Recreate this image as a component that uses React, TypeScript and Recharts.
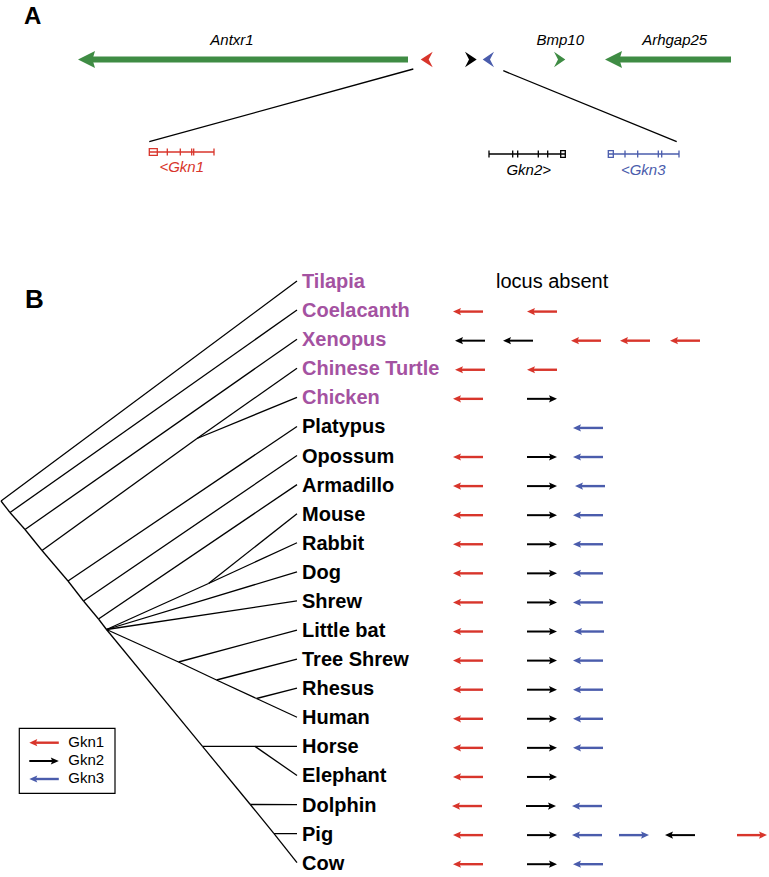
import React from 'react';
import { ComposedChart, XAxis, YAxis, ReferenceLine, ReferenceArea, ReferenceDot, Scatter } from 'recharts';

const W = 769;
const H = 877;
const FONT = 'Liberation Sans, Arial, Helvetica, sans-serif';
const RED = '#d8352b';
const BLUE = '#4a5cac';
const GREEN = '#3f8c44';
const PURPLE = '#a452a1';
const BLACK = '#000000';

// ---------- Panel A : genomic locus ----------
const locusGenes = ['Antxr1', 'Gkn1', 'Gkn2', 'Gkn3', 'Bmp10', 'Arhgap25'];
const locusTail = [408, 432.7, 465, 494, 554, 731];
const locusTip = [78, 420.7, 476.7, 482.7, 565.3, 605];
const locusBig = ['Antxr1', 'Arhgap25'];
const LOCUS_Y = 59.5;
const locusLabels = ['Antxr1', 'Bmp10', 'Arhgap25'];
const locusLabelX = [232, 560.3, 674.7];
const LOCUS_LABEL_Y = 45;

const exonGenes = ['Gkn1', 'Gkn2', 'Gkn3'];
const exonStart = [149.3, 489, 608.3];
const exonEnd = [214, 565.3, 679];
const exonBoxFrom = [149.3, 560.7, 608.3];
const exonBoxTo = [157.3, 565.3, 613.3];
const exonTicks = [
  [167.3, 180.3, 191.7, 193.7, 214],
  [489, 512.7, 517.7, 538.3, 547.7],
  [625, 637.7, 658.3, 661.7, 679],
];
const exonTrackY = [152, 154, 154];
const exonLabels = ['<Gkn1', 'Gkn2>', '<Gkn3'];
const exonLabelX = [181.7, 528.7, 643.2];
const exonLabelY = [172, 175, 175];
const zoomLines = [
  [413.3, 69, 149.3, 141.7],
  [503.3, 70.7, 676.7, 141.7],
];

// ---------- Panel B : tree + loci ----------
const species = ['Tilapia', 'Coelacanth', 'Xenopus', 'Chinese Turtle', 'Chicken', 'Platypus', 'Opossum', 'Armadillo', 'Mouse', 'Rabbit', 'Dog', 'Shrew', 'Little bat', 'Tree Shrew', 'Rhesus', 'Human', 'Horse', 'Elephant', 'Dolphin', 'Pig', 'Cow'];
const nonMammals = ['Tilapia', 'Coelacanth', 'Xenopus', 'Chinese Turtle', 'Chicken'];
const ROW0 = 281;
const ROW_STEP = 29.085;
const LEAF_X = 297;
const LABEL_X = 302;
const rowY = (i: number) => ROW0 + ROW_STEP * i;

const treeNodes: [string, number, number][] = [
  ['root', 1, 501],
  ['n1', 10, 512.5],
  ['n2', 25, 529.5],
  ['n3', 42, 550.5],
  ['archelo', 197, 438.5],
  ['n4', 68, 581],
  ['n5', 83.5, 601],
  ['n6', 98.5, 619],
  ['euth', 106.5, 629.5],
  ['glires', 208.5, 583.5],
  ['n9', 178.5, 662],
  ['n10', 216.5, 680],
  ['n11', 256.5, 698.5],
  ['n12', 202.5, 746.4],
  ['n13', 255, 746.4],
  ['n14', 250.3, 804.5],
  ['n15', 274, 833.6],
];
const treeEdges: [string, string][] = [
  ['root', 'Tilapia'], ['root', 'n1'], ['n1', 'Coelacanth'], ['n1', 'n2'], ['n2', 'Xenopus'], ['n2', 'n3'],
  ['n3', 'archelo'], ['archelo', 'Chinese Turtle'], ['archelo', 'Chicken'], ['n3', 'n4'], ['n4', 'Platypus'],
  ['n4', 'n5'], ['n5', 'Opossum'], ['n5', 'n6'], ['n6', 'Armadillo'], ['n6', 'euth'], ['euth', 'glires'],
  ['glires', 'Mouse'], ['glires', 'Rabbit'], ['euth', 'Dog'], ['euth', 'Shrew'], ['euth', 'n9'],
  ['n9', 'Little bat'], ['n9', 'n10'], ['n10', 'Tree Shrew'], ['n10', 'n11'], ['n11', 'Rhesus'], ['n11', 'Human'],
  ['euth', 'n12'], ['n12', 'n13'], ['n13', 'Horse'], ['n13', 'Elephant'], ['n12', 'n14'], ['n14', 'Dolphin'],
  ['n14', 'n15'], ['n15', 'Pig'], ['n15', 'Cow'],
];

const ARROW_LEN = 30;
const locusArrows: [string, string, 'L' | 'R', number][] = [
  ['Coelacanth', 'Gkn1', 'L', 453], ['Coelacanth', 'Gkn1', 'L', 527],
  ['Xenopus', 'Gkn2', 'L', 455], ['Xenopus', 'Gkn2', 'L', 503], ['Xenopus', 'Gkn1', 'L', 571], ['Xenopus', 'Gkn1', 'L', 620], ['Xenopus', 'Gkn1', 'L', 670],
  ['Chinese Turtle', 'Gkn1', 'L', 455], ['Chinese Turtle', 'Gkn1', 'L', 527],
  ['Chicken', 'Gkn1', 'L', 453], ['Chicken', 'Gkn2', 'R', 527],
  ['Platypus', 'Gkn3', 'L', 573],
  ['Opossum', 'Gkn1', 'L', 453], ['Opossum', 'Gkn2', 'R', 527], ['Opossum', 'Gkn3', 'L', 573],
  ['Armadillo', 'Gkn1', 'L', 453], ['Armadillo', 'Gkn2', 'R', 527], ['Armadillo', 'Gkn3', 'L', 575],
  ['Mouse', 'Gkn1', 'L', 453], ['Mouse', 'Gkn2', 'R', 527], ['Mouse', 'Gkn3', 'L', 573],
  ['Rabbit', 'Gkn1', 'L', 453], ['Rabbit', 'Gkn2', 'R', 527], ['Rabbit', 'Gkn3', 'L', 573],
  ['Dog', 'Gkn1', 'L', 453], ['Dog', 'Gkn2', 'R', 527], ['Dog', 'Gkn3', 'L', 573],
  ['Shrew', 'Gkn1', 'L', 453], ['Shrew', 'Gkn2', 'R', 527], ['Shrew', 'Gkn3', 'L', 573],
  ['Little bat', 'Gkn1', 'L', 453], ['Little bat', 'Gkn2', 'R', 527], ['Little bat', 'Gkn3', 'L', 574],
  ['Tree Shrew', 'Gkn1', 'L', 453], ['Tree Shrew', 'Gkn2', 'R', 527], ['Tree Shrew', 'Gkn3', 'L', 573],
  ['Rhesus', 'Gkn1', 'L', 453], ['Rhesus', 'Gkn2', 'R', 527], ['Rhesus', 'Gkn3', 'L', 573],
  ['Human', 'Gkn1', 'L', 453], ['Human', 'Gkn2', 'R', 527], ['Human', 'Gkn3', 'L', 573],
  ['Horse', 'Gkn1', 'L', 453], ['Horse', 'Gkn2', 'R', 527], ['Horse', 'Gkn3', 'L', 573],
  ['Elephant', 'Gkn1', 'L', 453], ['Elephant', 'Gkn2', 'R', 527],
  ['Dolphin', 'Gkn1', 'L', 452], ['Dolphin', 'Gkn2', 'R', 526], ['Dolphin', 'Gkn3', 'L', 572],
  ['Pig', 'Gkn1', 'L', 453], ['Pig', 'Gkn2', 'R', 527], ['Pig', 'Gkn3', 'L', 572], ['Pig', 'Gkn3', 'R', 619], ['Pig', 'Gkn2', 'L', 665], ['Pig', 'Gkn1', 'R', 737],
  ['Cow', 'Gkn1', 'L', 453], ['Cow', 'Gkn2', 'R', 527], ['Cow', 'Gkn3', 'L', 573],
];
const absentLabel = 'locus absent';
const absentX = 496;

const legendNames = ['Gkn1', 'Gkn2', 'Gkn3'];
const legendDirs: ('L' | 'R')[] = ['L', 'R', 'L'];
const legendArrowY = [742.7, 761, 779];
const legendTextY = [747.3, 765, 782.7];
const legendBox = [19.3, 728.3, 115, 793.3];

const panelLetters = ['A', 'B'];
const panelLetterX = [24, 25];
const panelLetterY = [24, 308.3];

const geneColor: Record<string, string> = {
  Gkn1: RED, Gkn2: BLACK, Gkn3: BLUE, Antxr1: GREEN, Bmp10: GREEN, Arhgap25: GREEN,
  '<Gkn1': RED, 'Gkn2>': BLACK, '<Gkn3': BLUE,
};

// ---------- shapes ----------
type Dir = 'L' | 'R';
function arrowShape(dir: Dir, color: string, hl: number, hw: number, notch: number, sw: number) {
  return (p: any) => {
    const x1 = Number(p.x1), x2 = Number(p.x2), y = Number(p.y1);
    const l = Math.min(x1, x2);
    const r = Math.max(x1, x2);
    if (dir === 'L') {
      const hb = l + hl;
      return (
        <g>
          {r > hb - notch && <line x1={hb - notch - 0.5} y1={y} x2={r} y2={y} stroke={color} strokeWidth={sw} />}
          <polygon points={`${l},${y} ${hb},${y - hw} ${hb - notch},${y} ${hb},${y + hw}`} fill={color} />
        </g>
      );
    }
    const hb = r - hl;
    return (
      <g>
        {hb + notch > l && <line x1={l} y1={y} x2={hb + notch + 0.5} y2={y} stroke={color} strokeWidth={sw} />}
        <polygon points={`${r},${y} ${hb},${y - hw} ${hb + notch},${y} ${hb},${y + hw}`} fill={color} />
      </g>
    );
  };
}

function textShape(label: string, opts: { color: string; size: number; weight?: string; italic?: boolean; anchor?: string }) {
  return (p: any) => (
    <text
      x={p.cx}
      y={p.cy}
      fill={opts.color}
      fontSize={opts.size}
      fontWeight={opts.weight || 'normal'}
      fontStyle={opts.italic ? 'italic' : 'normal'}
      fontFamily={FONT}
      textAnchor={opts.anchor || 'start'}
    >
      {label}
    </text>
  );
}

const nodePos = (name: string): [number, number] => {
  const n = treeNodes.find((t) => t[0] === name);
  if (n) return [n[1], n[2]];
  const i = species.indexOf(name);
  return [LEAF_X, rowY(i)];
};

const speciesData = species.map((name, i) => ({ x: LABEL_X, y: rowY(i) + 7, name }));

const SpeciesLabel = (p: any) => (
  <text
    x={p.cx}
    y={p.cy}
    fill={nonMammals.includes(p.payload.name) ? PURPLE : BLACK}
    fontSize={20}
    fontWeight="bold"
    fontFamily={FONT}
    textAnchor="start"
  >
    {p.payload.name}
  </text>
);

export default function App() {
  const els: React.ReactNode[] = [];

  // Panel A: zoom connector lines
  zoomLines.forEach((z, i) => {
    els.push(
      <ReferenceLine key={`zl${i}`} ifOverflow="visible" segment={[{ x: z[0], y: z[1] }, { x: z[2], y: z[3] }]} stroke={BLACK} strokeWidth={1.3} />
    );
  });

  // Panel A: locus genes
  locusGenes.forEach((g, i) => {
    const big = locusBig.includes(g);
    const dir: Dir = locusTip[i] < locusTail[i] ? 'L' : 'R';
    const len = Math.abs(locusTip[i] - locusTail[i]);
    const shape = big
      ? arrowShape(dir, geneColor[g], 17, 8.5, 2.5, 6)
      : arrowShape(dir, geneColor[g], len, 7.8, 4, 0);
    els.push(
      <ReferenceLine key={`lg${i}`} ifOverflow="visible" segment={[{ x: locusTail[i], y: LOCUS_Y }, { x: locusTip[i], y: LOCUS_Y }]} shape={shape} />
    );
  });
  locusLabels.forEach((g, i) => {
    els.push(
      <ReferenceDot key={`ll${i}`} ifOverflow="visible" x={locusLabelX[i]} y={LOCUS_LABEL_Y} r={0}
        shape={textShape(g, { color: BLACK, size: 15, italic: true, anchor: 'middle' })} />
    );
  });

  // Panel A: exon structures
  exonGenes.forEach((g, i) => {
    const c = geneColor[g];
    const y = exonTrackY[i];
    els.push(
      <ReferenceLine key={`ex${i}`} ifOverflow="visible" segment={[{ x: exonStart[i], y }, { x: exonEnd[i], y }]} stroke={c} strokeWidth={1.3} />
    );
    exonTicks[i].forEach((t, j) => {
      els.push(
        <ReferenceLine key={`et${i}-${j}`} ifOverflow="visible" segment={[{ x: t, y: y - 3.4 }, { x: t, y: y + 3.4 }]} stroke={c} strokeWidth={1.3} />
      );
    });
    els.push(
      <ReferenceArea key={`eb${i}`} ifOverflow="visible" x1={exonBoxFrom[i]} x2={exonBoxTo[i]} y1={y - 3.3} y2={y + 3.3}
        fill="#ffffff" fillOpacity={1} stroke={c} strokeWidth={1.3} />
    );
    els.push(
      <ReferenceDot key={`el${i}`} ifOverflow="visible" x={exonLabelX[i]} y={exonLabelY[i]} r={0}
        shape={textShape(exonLabels[i], { color: geneColor[exonLabels[i]], size: 15, italic: true, anchor: 'middle' })} />
    );
  });

  // Panel letters
  panelLetters.forEach((L, i) => {
    els.push(
      <ReferenceDot key={`pl${i}`} ifOverflow="visible" x={panelLetterX[i]} y={panelLetterY[i]} r={0}
        shape={textShape(L, { color: BLACK, size: i === 0 ? 24 : 26, weight: 'bold' })} />
    );
  });

  // Panel B: tree
  treeEdges.forEach(([a, b], i) => {
    const [x1, y1] = nodePos(a);
    const [x2, y2] = nodePos(b);
    els.push(
      <ReferenceLine key={`te${i}`} ifOverflow="visible" segment={[{ x: x1, y: y1 }, { x: x2, y: y2 }]} stroke={BLACK} strokeWidth={1.3} />
    );
  });

  // Panel B: locus arrows
  locusArrows.forEach(([sp, g, dir, start], i) => {
    const y = rowY(species.indexOf(sp)) + 1.5;
    els.push(
      <ReferenceLine key={`la${i}`} ifOverflow="visible" segment={[{ x: start, y }, { x: start + ARROW_LEN, y }]}
        shape={arrowShape(dir, geneColor[g], 8, 3.6, 1.5, g === 'Gkn2' ? 2 : 2.4)} />
    );
  });
  els.push(
    <ReferenceDot key="absent" ifOverflow="visible" x={absentX} y={rowY(0) + 7} r={0}
      shape={textShape(absentLabel, { color: BLACK, size: 20 })} />
  );

  // Legend
  els.push(
    <ReferenceArea key="legbox" ifOverflow="visible" x1={legendBox[0]} x2={legendBox[2]} y1={legendBox[1]} y2={legendBox[3]}
      fill="#ffffff" fillOpacity={1} stroke={BLACK} strokeWidth={1.2} />
  );
  legendNames.forEach((g, i) => {
    els.push(
      <ReferenceLine key={`lga${i}`} ifOverflow="visible" segment={[{ x: 29.3, y: legendArrowY[i] }, { x: 58.8, y: legendArrowY[i] }]}
        shape={arrowShape(legendDirs[i], geneColor[g], 8, 3.6, 1.5, g === 'Gkn2' ? 2 : 2.4)} />
    );
    els.push(
      <ReferenceDot key={`lgt${i}`} ifOverflow="visible" x={68.3} y={legendTextY[i]} r={0}
        shape={textShape(g, { color: BLACK, size: 15 })} />
    );
  });

  return (
    <div style={{ position: 'absolute', left: 0, top: 0, width: W, height: H, background: '#fff' }}>
      <ComposedChart width={W} height={H} margin={{ top: 0, right: 0, bottom: 0, left: 0 }}>
        <XAxis type="number" dataKey="x" domain={[0, W]} allowDataOverflow hide />
        <YAxis type="number" dataKey="y" domain={[0, H]} allowDataOverflow reversed hide />
        {els}
        <Scatter data={speciesData} isAnimationActive={false} shape={SpeciesLabel} />
      </ComposedChart>
    </div>
  );
}
